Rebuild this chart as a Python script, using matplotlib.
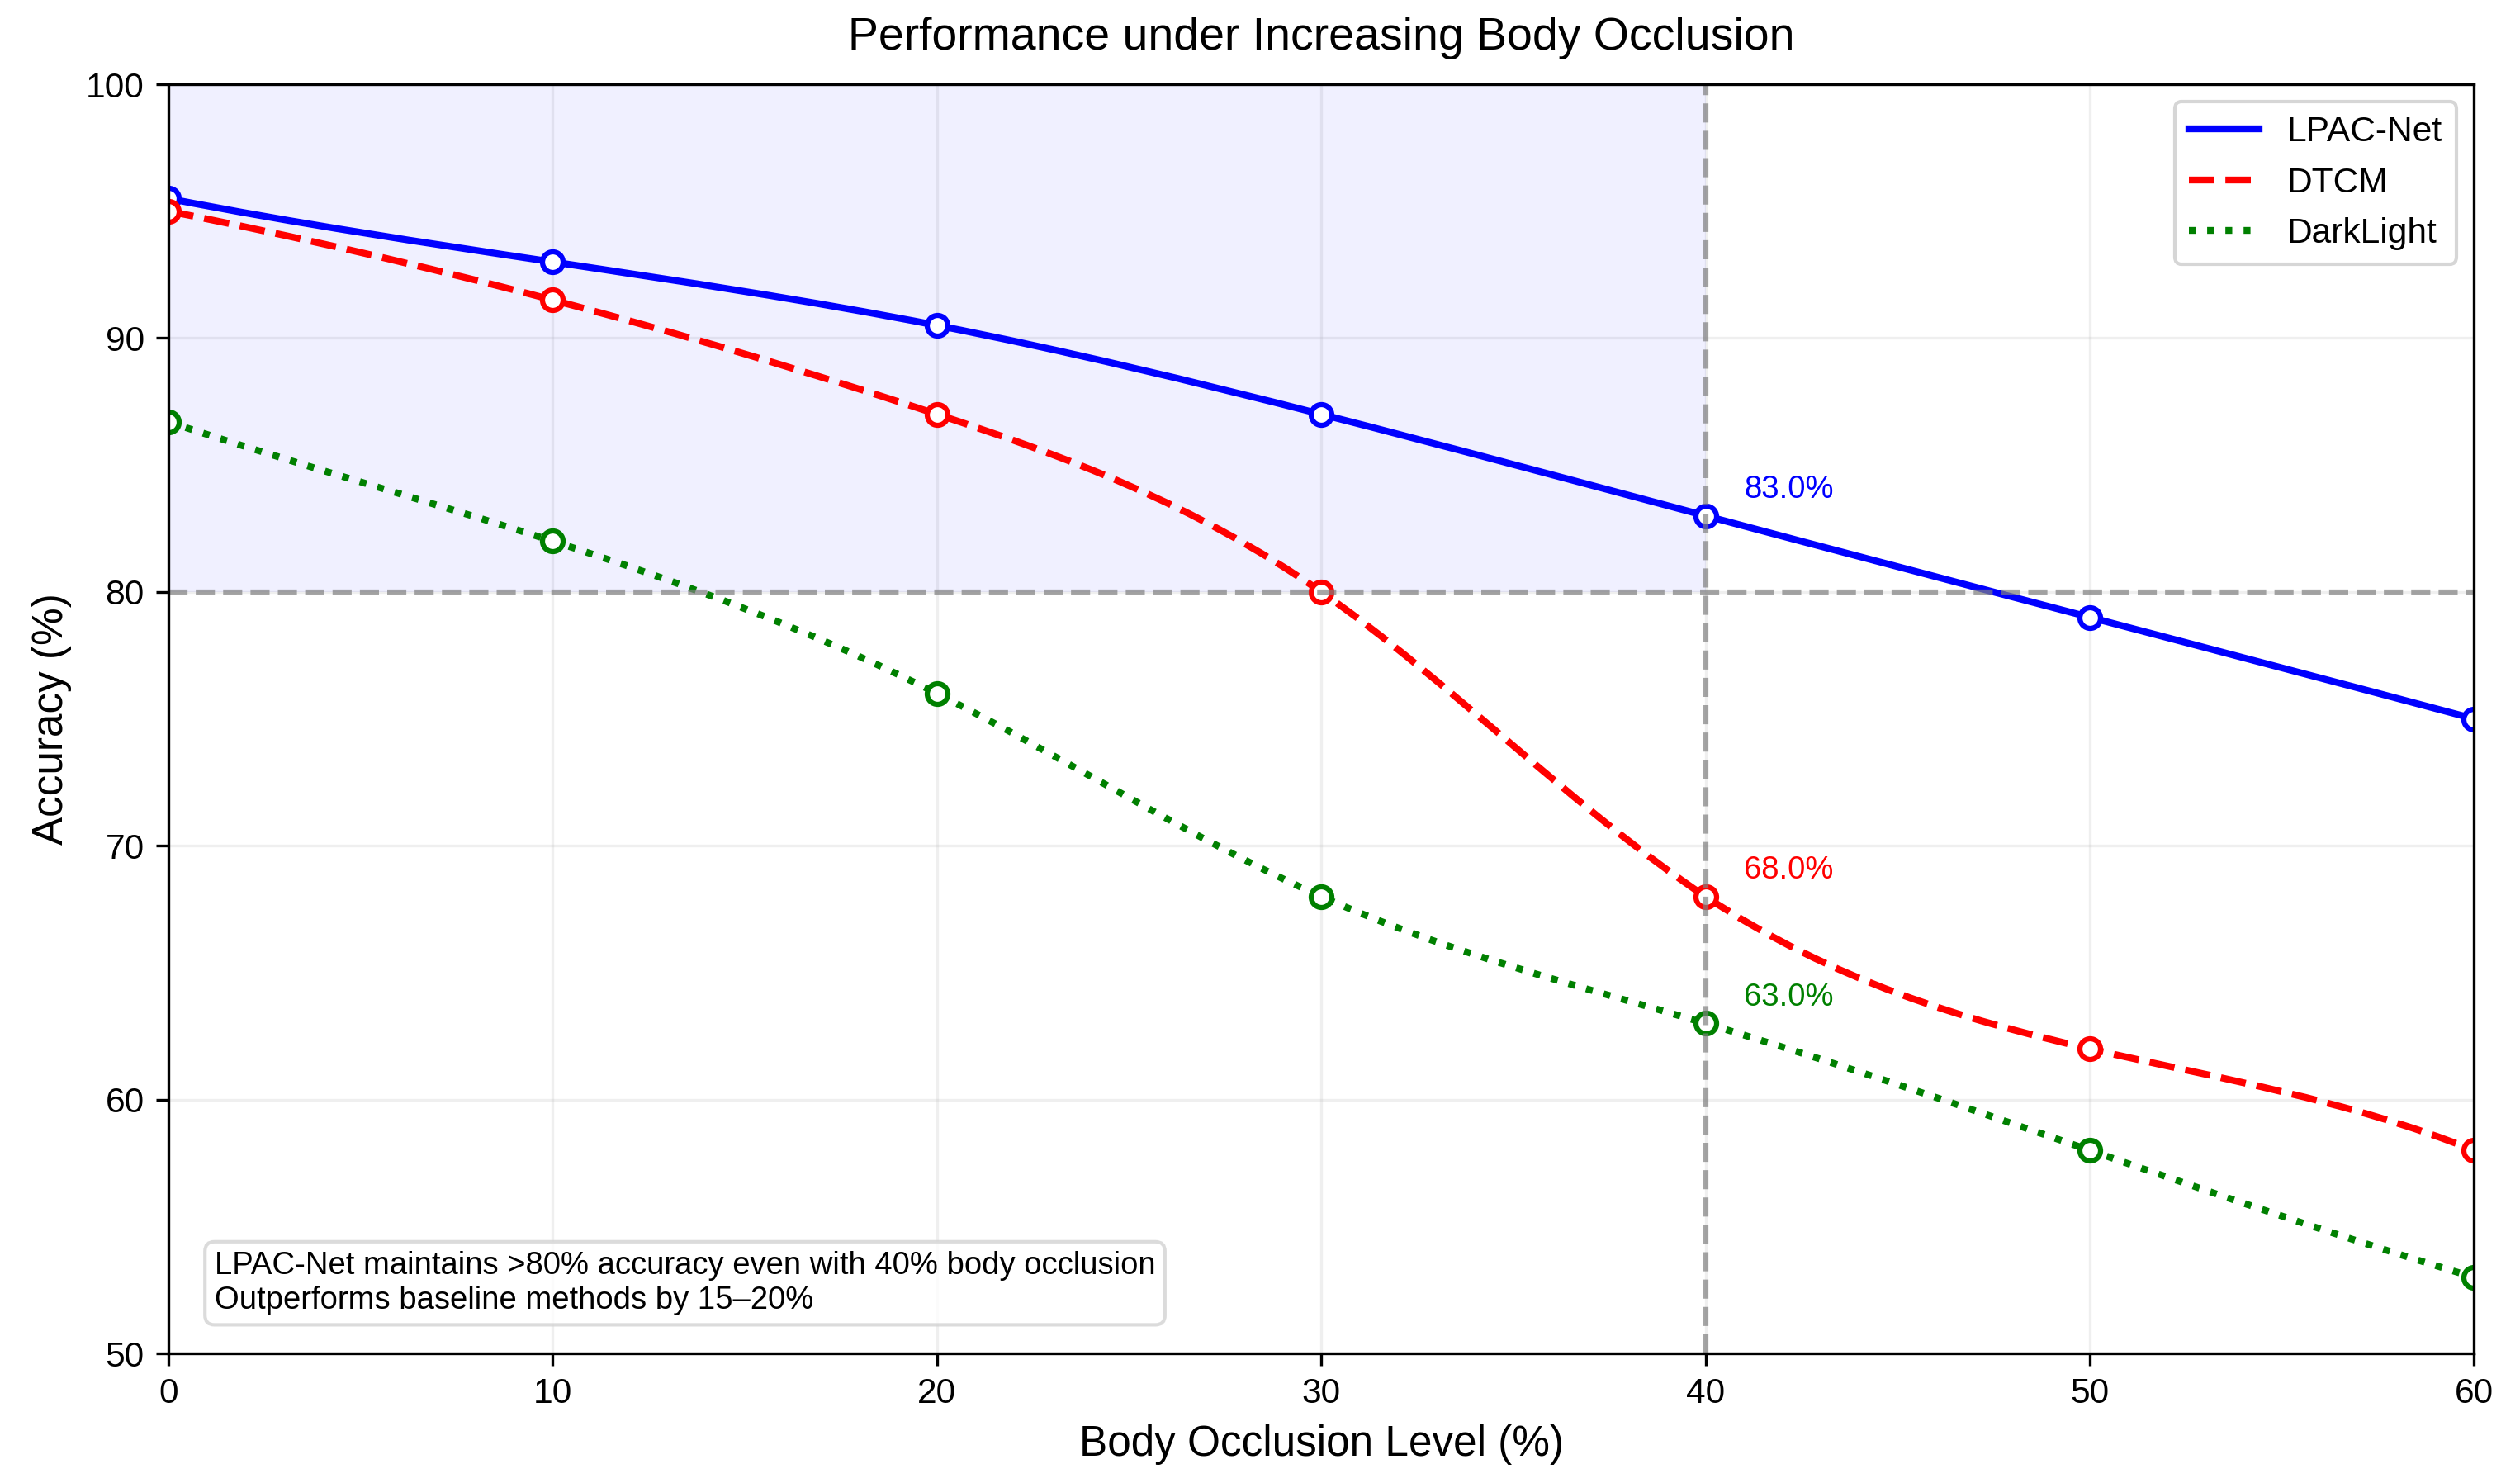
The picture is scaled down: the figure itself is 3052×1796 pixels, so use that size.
import numpy as np
import matplotlib
matplotlib.use("Agg")
import matplotlib.pyplot as plt
from matplotlib.path import Path
from matplotlib.patches import PathPatch
from matplotlib.lines import Line2D

plt.rcParams['font.family'] = ['Liberation Sans', 'DejaVu Sans']

# data
occlusion = [0, 10, 20, 30, 40, 50, 60]
lpac_net = [95.5, 93.0, 90.5, 87.0, 83.0, 79.0, 75.0]
dtcm = [95.0, 91.5, 87.0, 80.0, 68.0, 62.0, 58.0]
darklight = [86.7, 82.0, 76.0, 68.0, 63.0, 58.0, 53.0]

method_names = ['LPAC-Net', 'DTCM', 'DarkLight']
method_colors = ['blue', 'red', 'green']
method_styles = ['-', '--', ':']
highlight_x = 40
threshold = 80


def spline_slopes(x, y):
    # slopes of a not-a-knot cubic spline (equal spacing assumed)
    x = np.asarray(x, float)
    y = np.asarray(y, float)
    n = len(x)
    h = np.diff(x)
    d = np.diff(y) / h
    A = np.zeros((n, n))
    b = np.zeros(n)
    A[0, 0], A[0, 1] = 1, 2
    b[0] = (5 * d[0] + d[1]) / 2
    for i in range(1, n - 1):
        A[i, i - 1] = h[i]
        A[i, i] = 2 * (h[i - 1] + h[i])
        A[i, i + 1] = h[i - 1]
        b[i] = 3 * (h[i] * d[i - 1] + h[i - 1] * d[i])
    A[-1, -2], A[-1, -1] = 2, 1
    b[-1] = (d[-2] + 5 * d[-1]) / 2
    return np.linalg.solve(A, b)


def smooth_path(x, y):
    # smooth curve through the points as cubic bezier segments
    s = spline_slopes(x, y)
    verts = [(x[0], y[0])]
    codes = [Path.MOVETO]
    for i in range(len(x) - 1):
        h = x[i + 1] - x[i]
        verts += [(x[i] + h / 3, y[i] + s[i] * h / 3),
                  (x[i + 1] - h / 3, y[i + 1] - s[i + 1] * h / 3),
                  (x[i + 1], y[i + 1])]
        codes += [Path.CURVE4] * 3
    return Path(verts, codes)


fig = plt.figure(figsize=(3052 / 300, 1796 / 300), dpi=300)
ax = fig.add_axes([0.0668, 0.0874, 0.915, 0.8558])

# shaded "good" zone
ax.fill_between([0, highlight_x], threshold, 100, color='blue', alpha=0.06, linewidth=0)

handles = []
for vals, name, col, ls in zip([lpac_net, dtcm, darklight], method_names, method_colors, method_styles):
    ax.add_patch(PathPatch(smooth_path(occlusion, vals), fill=False, edgecolor=col,
                           linestyle=ls, linewidth=2, zorder=2))
    ax.plot(occlusion, vals, linestyle='none', marker='o', markersize=6,
            markerfacecolor='white', markeredgecolor=col, markeredgewidth=1.5, zorder=2)
    handles.append(Line2D([], [], color=col, linestyle=ls, linewidth=2, label=name))
    idx = occlusion.index(highlight_x)
    ax.text(highlight_x + 1, vals[idx] + 0.7, f'{vals[idx]:.1f}%', color=col, fontsize=9.2)

ax.axvline(highlight_x, color='gray', linestyle='--', linewidth=1.5, alpha=0.7)
ax.axhline(threshold, color='gray', linestyle='--', linewidth=1.5, alpha=0.7)

ax.set_xlim(0, 60)
ax.set_ylim(50, 100)
ax.set_xticks(occlusion)
ax.set_yticks(range(50, 101, 10))
ax.tick_params(labelsize=10.2)
ax.grid(True, alpha=0.2)
ax.set_axisbelow(True)

ax.set_xlabel('Body Occlusion Level (%)', fontsize=12.3)
ax.set_ylabel('Accuracy (%)', fontsize=12.3)
ax.set_title('Performance under Increasing Body Occlusion', fontsize=13.3, pad=10)
ax.legend(handles=handles, loc='upper right', fontsize=10.2)

ax.text(0.02, 0.03,
        'LPAC-Net maintains >80% accuracy even with 40% body occlusion\n'
        'Outperforms baseline methods by 15\u201320%',
        transform=ax.transAxes, fontsize=9.2, va='bottom', ha='left',
        bbox=dict(boxstyle='round', facecolor='white', alpha=0.8, edgecolor='lightgray'))

fig.savefig('out.png', dpi=300)
